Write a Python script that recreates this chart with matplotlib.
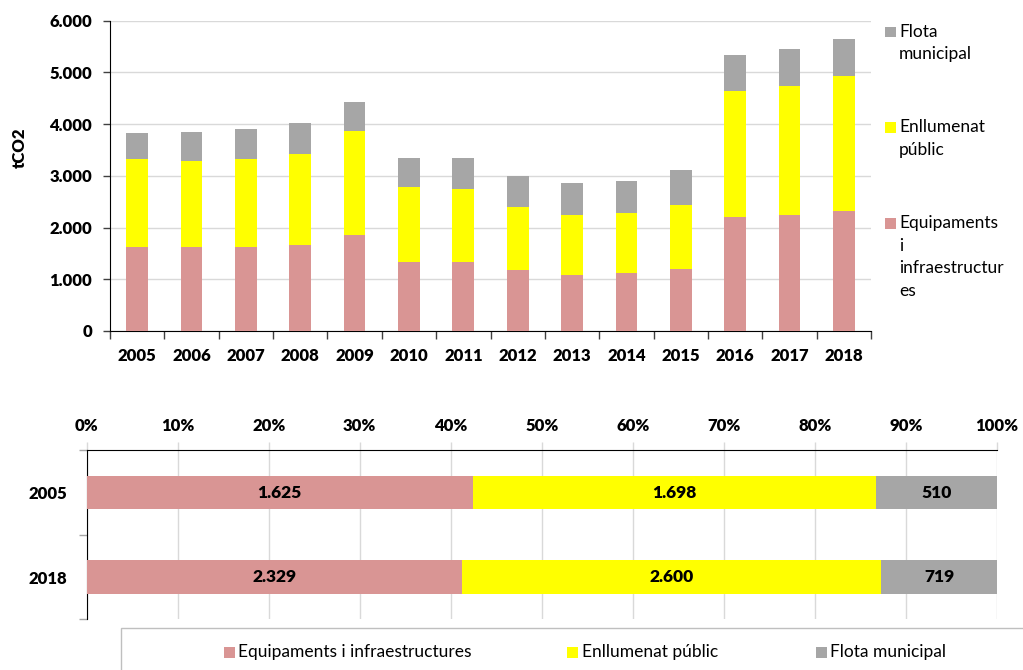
import numpy as np
import matplotlib
matplotlib.use("Agg")
import matplotlib.pyplot as plt
from matplotlib.patches import Rectangle
from matplotlib.ticker import FuncFormatter, MultipleLocator

plt.rcParams['font.family'] = ['Lato', 'DejaVu Sans']

# Dades (tCO2)
years = [2005, 2006, 2007, 2008, 2009, 2010, 2011, 2012, 2013, 2014, 2015, 2016, 2017, 2018]
equipaments = [1625, 1625, 1625, 1655, 1860, 1340, 1325, 1170, 1090, 1115, 1190, 2195, 2235, 2329]
enllumenat = [1698, 1665, 1695, 1765, 2015, 1445, 1415, 1225, 1155, 1175, 1250, 2445, 2495, 2600]
flota = [510, 565, 580, 600, 560, 560, 600, 605, 615, 620, 670, 690, 715, 719]
compare_years = [2005, 2018]

names = ['Equipaments i infraestructures', 'Enllumenat públic', 'Flota municipal']
colors = ['#D99594', '#FFFF00', '#A6A6A6']
grid_c = '#D9D9D9'
BOLD = 'heavy'

W, H = 1023, 670
fig = plt.figure(figsize=(W / 100, H / 100), dpi=100)


def fx(px):
    return px / W


def fy(py):
    return 1 - py / H


def dot_fmt(v, pos=None):
    return f"{int(round(v)):,}".replace(",", ".")


# --- Grafic superior: barres apilades ---
ax = fig.add_axes([fx(110), fy(331), fx(871) - fx(110), fy(20.7) - fy(331)])
x = np.arange(len(years))
s1 = np.array(equipaments)
s2 = np.array(enllumenat)
s3 = np.array(flota)
ax.bar(x, s1, width=0.4, color=colors[0], zorder=3)
ax.bar(x, s2, width=0.4, bottom=s1, color=colors[1], zorder=3)
ax.bar(x, s3, width=0.4, bottom=s1 + s2, color=colors[2], zorder=3)
ax.set_xlim(-0.5, len(years) - 0.5)
ax.set_ylim(0, 6000)
ax.yaxis.set_major_locator(MultipleLocator(1000))
ax.yaxis.set_major_formatter(FuncFormatter(dot_fmt))
ax.set_xticks(x)
ax.set_xticklabels([str(y) for y in years])
ax.set_xticks(np.arange(-0.5, len(years)), minor=True)
ax.tick_params(axis='x', which='major', length=0, pad=12)
ax.tick_params(axis='x', which='minor', length=6, width=1, color='#404040', direction='out')
ax.tick_params(axis='y', which='major', length=5, width=1, color='#404040', pad=8)
for lab in ax.get_xticklabels() + ax.get_yticklabels():
    lab.set_fontsize(12)
    lab.set_fontweight(BOLD)
ax.grid(axis='y', color=grid_c, linewidth=1, zorder=0)
for s in ['top', 'right']:
    ax.spines[s].set_visible(False)
ax.spines['left'].set_color('black')
ax.spines['bottom'].set_color('black')
fig.text(fx(20), fy(148), 'tCO2', rotation=90, ha='center', va='center',
         fontsize=12, fontweight=BOLD)

# llegenda lateral
leg_items = [
    (colors[2], 26.7, ['Flota', 'municipal']),
    (colors[1], 122, ['Enllumenat', 'públic']),
    (colors[0], 218, ['Equipaments', 'i', 'infraestructur', 'es']),
]
for col, top, lines in leg_items:
    fig.patches.append(Rectangle((fx(885), fy(top + 10.5)), fx(10.5), fy(top) - fy(top + 10.5),
                                 transform=fig.transFigure, facecolor=col, edgecolor='none'))
    for i, ln in enumerate(lines):
        fig.text(fx(899), fy(top + 5 + i * 22.7), ln, ha='left', va='center', fontsize=12.5)

# --- Grafic inferior: 100% apilat ---
ax2 = fig.add_axes([fx(86.7), fy(619.3), fx(997) - fx(86.7), fy(450.3) - fy(619.3)])
idx = [years.index(y) for y in compare_years]
vals = np.array([[equipaments[i], enllumenat[i], flota[i]] for i in idx], dtype=float)
tot = vals.sum(axis=1)
pct = vals / tot[:, None] * 100
yy = np.arange(len(compare_years))
left = np.zeros(len(compare_years))
for k in range(3):
    ax2.barh(yy, pct[:, k], left=left, height=0.4, color=colors[k], zorder=3)
    for j in range(len(compare_years)):
        ax2.text(left[j] + pct[j, k] / 2, yy[j], dot_fmt(vals[j, k]), ha='center', va='center',
                 fontsize=12.5, fontweight=BOLD, zorder=4)
    left += pct[:, k]
ax2.set_xlim(0, 100)
ax2.set_ylim(len(compare_years) - 0.5, -0.5)
ax2.xaxis.set_major_locator(MultipleLocator(10))
ax2.xaxis.set_major_formatter(FuncFormatter(lambda v, p: f"{int(v)}%"))
ax2.xaxis.tick_top()
ax2.set_yticks(yy)
ax2.set_yticklabels([str(y) for y in compare_years])
ax2.set_yticks(np.arange(-0.5, len(compare_years)), minor=True)
ax2.tick_params(axis='x', which='major', length=6, width=1, color=grid_c, pad=6)
ax2.tick_params(axis='y', which='major', length=0, pad=14)
ax2.tick_params(axis='y', which='minor', length=6, width=1, color='#A6A6A6')
for lab in ax2.get_xticklabels() + ax2.get_yticklabels():
    lab.set_fontsize(12)
    lab.set_fontweight(BOLD)
ax2.grid(axis='x', color=grid_c, linewidth=1, zorder=0)
for s in ['bottom', 'right']:
    ax2.spines[s].set_visible(False)

# llegenda inferior
fig.patches.append(Rectangle((fx(120.5), fy(680)), fx(1030) - fx(120.5), fy(628.3) - fy(680),
                             transform=fig.transFigure, facecolor='none', edgecolor='#BFBFBF', linewidth=1))
for col, px, name in [(colors[0], 224, names[0]), (colors[1], 567.3, names[1]), (colors[2], 815.7, names[2])]:
    fig.patches.append(Rectangle((fx(px), fy(657.7)), fx(11), fy(646.7) - fy(657.7),
                                 transform=fig.transFigure, facecolor=col, edgecolor='none'))
    fig.text(fx(px + 14.5), fy(652), name, ha='left', va='center', fontsize=12.5)

fig.savefig('out.png', dpi=100)
